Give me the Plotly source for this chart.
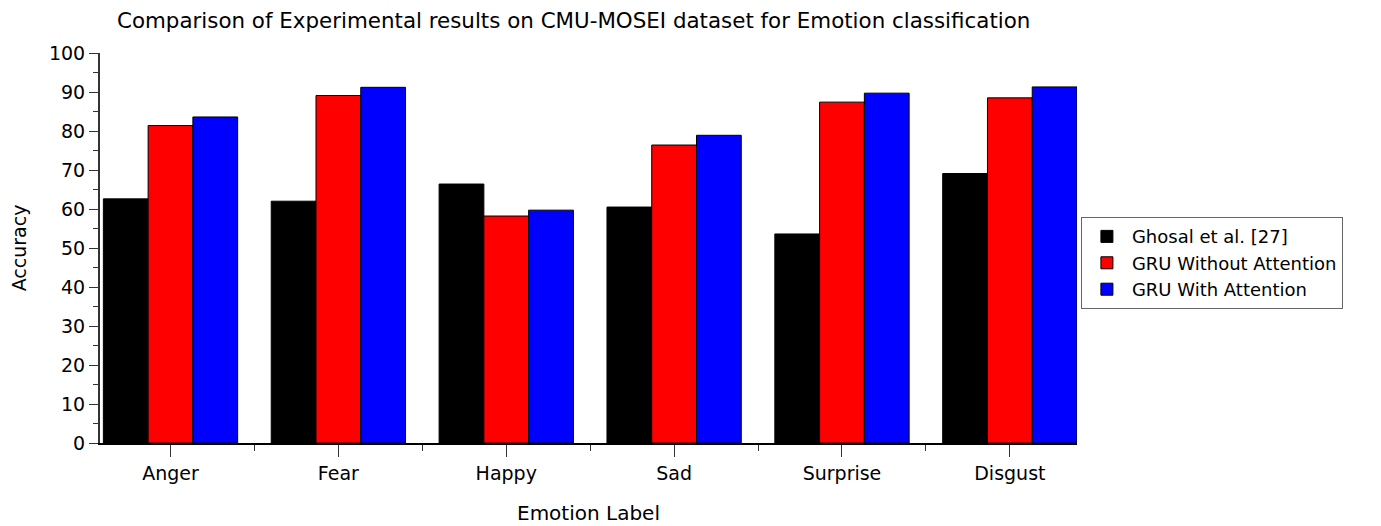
import plotly.graph_objects as go

categories = ["Anger", "Fear", "Happy", "Sad", "Surprise", "Disgust"]
ghosal = [62.6, 62.0, 66.4, 60.5, 53.6, 69.1]
gru_no_att = [81.4, 89.1, 58.2, 76.4, 87.4, 88.5]
gru_att = [83.6, 91.2, 59.7, 78.9, 89.7, 91.3]
series_names = ["Ghosal et al. [27]", "GRU Without Attention", "GRU With Attention"]
colors = ["#000000", "#ff0000", "#0000ff"]
y_ticks = list(range(0, 101, 10))

x_pos = list(range(len(categories)))

fig = go.Figure()
for name, vals, col in zip(series_names, [ghosal, gru_no_att, gru_att], colors):
    fig.add_trace(go.Bar(
        x=x_pos, y=vals, name=name,
        marker=dict(color=col, line=dict(color="#000000", width=1)),
    ))

font = "DejaVu Sans, Arial, sans-serif"
fig.update_layout(
    width=1381, height=526,
    barmode="group", bargap=0.2, bargroupgap=0,
    plot_bgcolor="white", paper_bgcolor="white",
    margin=dict(l=92, r=312, t=45, b=91),
    font=dict(family=font, size=19, color="black"),
    title=dict(text="Comparison of Experimental results on CMU-MOSEI dataset for Emotion classification",
               x=109/1381, xanchor="left", y=1 - 13/526, yanchor="middle",
               font=dict(family=font, size=21.4, color="black")),
    xaxis=dict(
        title=dict(text="Emotion Label", font=dict(size=20), standoff=23),
        range=[-0.42, 5.4], automargin=False,
        tickvals=x_pos, ticktext=categories,
        showline=True, linecolor="black", linewidth=2,
        ticks="outside", ticklen=12, tickwidth=1, tickcolor="#333",
        minor=dict(tick0=0.5, dtick=1, ticks="outside", ticklen=6, tickwidth=1, tickcolor="#333"),
        showgrid=False, zeroline=False, tickfont=dict(size=19),
    ),
    yaxis=dict(
        title=dict(text="Accuracy", font=dict(size=19), standoff=17),
        range=[0, 100], tickvals=y_ticks, automargin=False,
        showline=True, linecolor="#333", linewidth=2,
        ticks="outside", ticklen=9, tickwidth=1, tickcolor="#333",
        minor=dict(dtick=5, ticks="outside", ticklen=5, tickwidth=1, tickcolor="#333"),
        showgrid=False, zeroline=False, tickfont=dict(size=19),
    ),
    legend=dict(
        x=1.004, xanchor="left", y=0.579, yanchor="top",
        bordercolor="#666", borderwidth=1, bgcolor="white",
        font=dict(size=18), itemwidth=40, tracegroupgap=0,
    ),
)
fig.write_html("out.html")
